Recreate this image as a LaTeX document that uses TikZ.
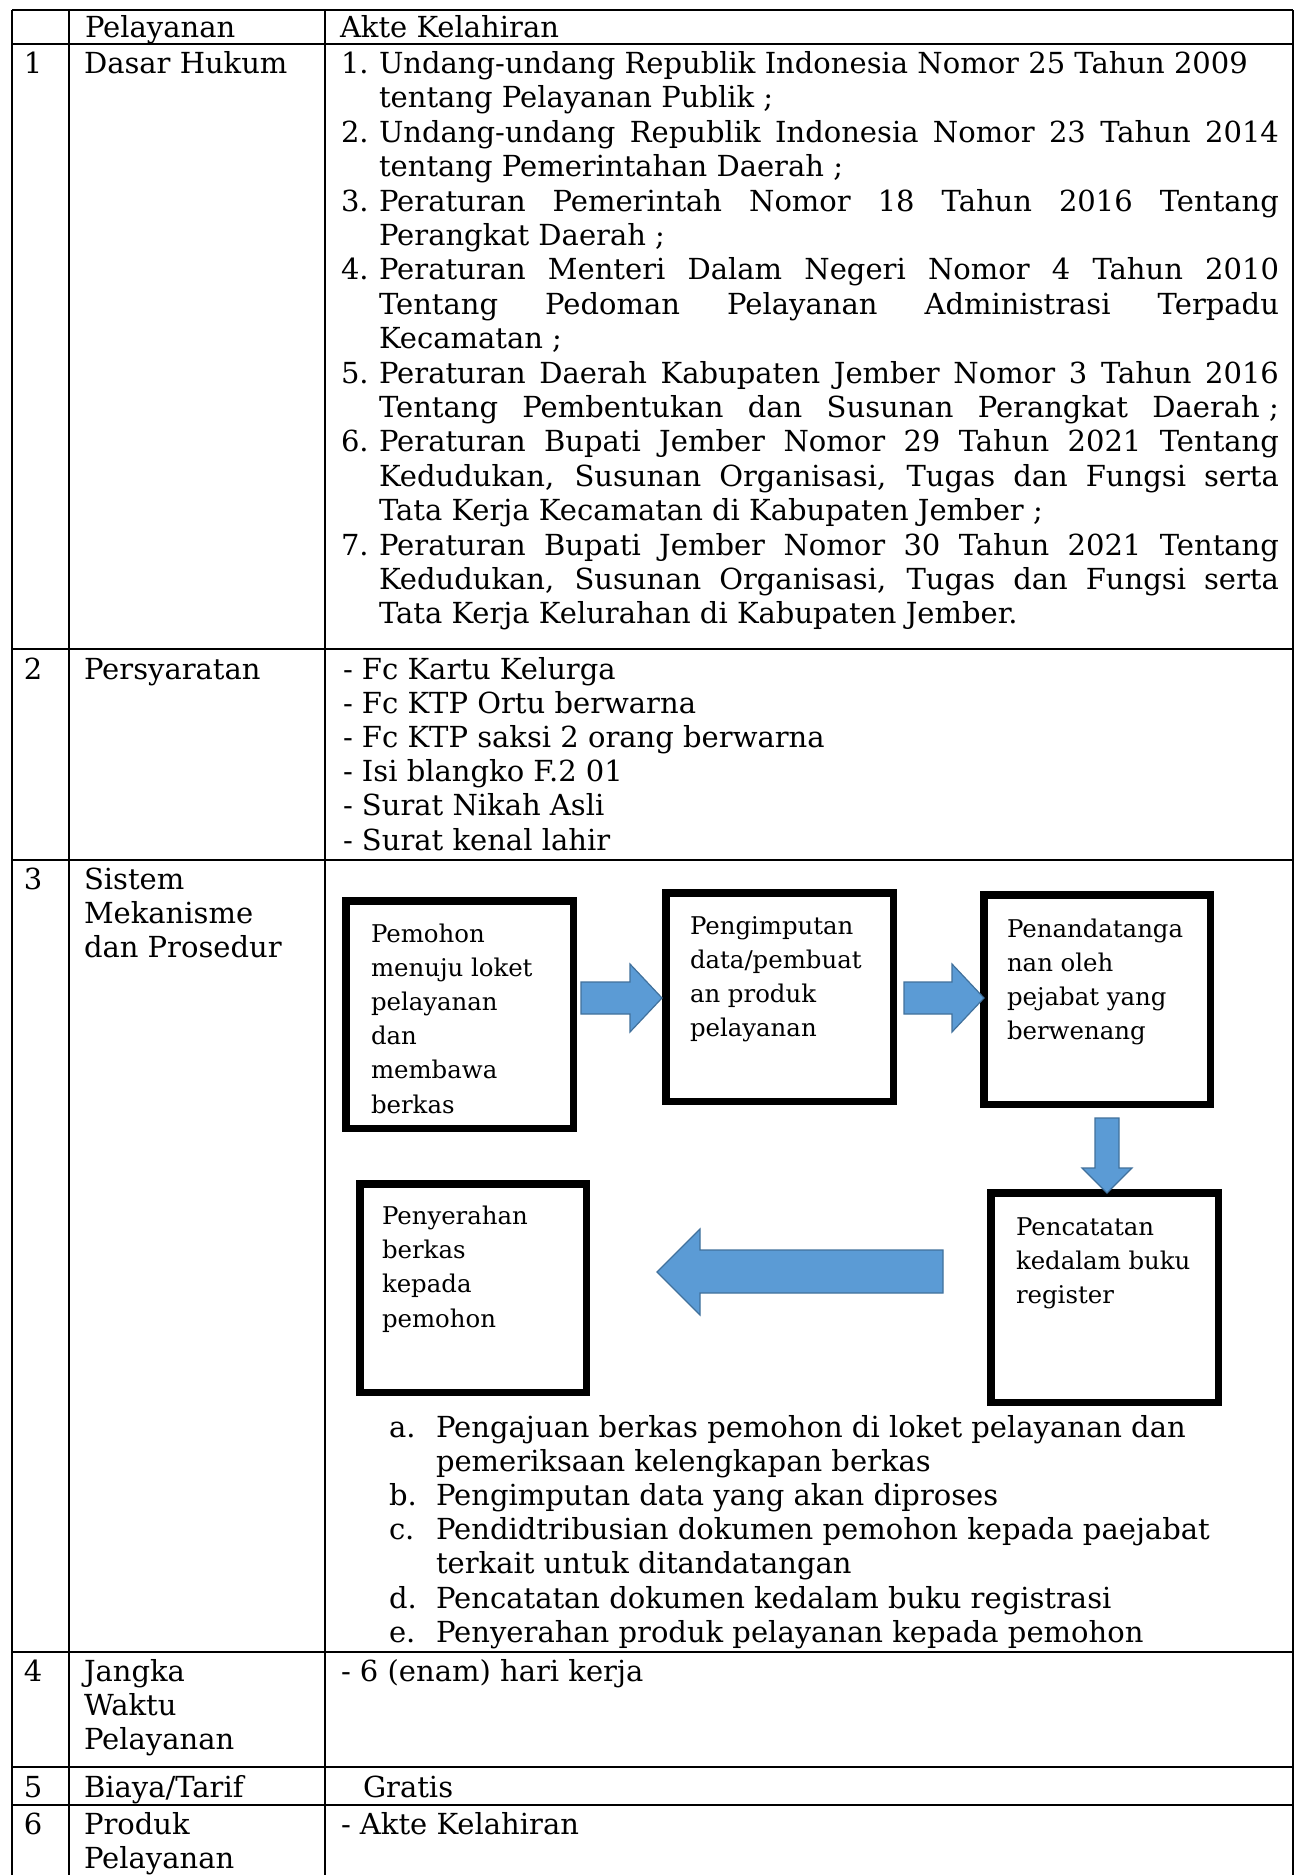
\documentclass[tikz,border=0pt]{standalone}
\usepackage{fontspec}
\setmainfont{DejaVu Serif}
\definecolor{arrowfill}{HTML}{5B9BD5}
\definecolor{arrowline}{HTML}{41719C}
\newcommand{\jline}[1]{\makebox[450pt][s]{#1}}
\begin{document}
\begin{tikzpicture}[x=0.5pt,y=-0.5pt,
 tx/.style={anchor=base west, inner sep=0pt, outer sep=0pt, font=\fontsize{14.5}{17}\selectfont},
 bt/.style={anchor=base west, inner sep=0pt, outer sep=0pt, font=\fontsize{12.2}{16}\selectfont},
 hrule/.style={line width=1.15pt},
 vrule/.style={line width=0.85pt},
 flowbox/.style={draw, line width=3.75pt, inner sep=0pt, fill=white},
 blockarrow/.style={fill=arrowfill, draw=arrowline, line width=0.6pt, line join=miter}]
\useasboundingbox (0,0) rectangle (1295,1875);
\fill[white] (0,0) rectangle (1295,1875);

% ---------- table grid ----------
\foreach \xx in {12,69,325,1293} {\draw[vrule] (\xx,10) -- (\xx,1875);}
\foreach \yy in {10,44,649,860,1652,1767,1805} {\draw[hrule] (12,\yy) -- (1293,\yy);}

% ---------- header ----------
\node[tx] (h1) at (85,37) {Pelayanan};
\node[tx] (h2) at (340,37) {Akte Kelahiran};

% ---------- row 1 ----------
\node[tx] (n1) at (24,73.5) {1};
\node[tx] (l1) at (84,73.5) {Dasar Hukum};
\node[tx] (r1a) at (341,73.5) {1.};
\node[tx] (r1b) at (379,73.5) {Undang-undang Republik Indonesia Nomor 25 Tahun 2009};
\node[tx] (r1c) at (379,107.9) {tentang Pelayanan Publik ;};
\node[tx] (r2a) at (341,142.3) {2.};
\node[tx] (r2b) at (379,142.3) {\jline{Undang-undang Republik Indonesia Nomor 23 Tahun 2014}};
\node[tx] (r2c) at (379,176.7) {tentang Pemerintahan Daerah ;};
\node[tx] (r3a) at (341,211.1) {3.};
\node[tx] (r3b) at (379,211.1) {\jline{Peraturan Pemerintah Nomor 18 Tahun 2016 Tentang}};
\node[tx] (r3c) at (379,245.5) {Perangkat Daerah ;};
\node[tx] (r4a) at (341,279.9) {4.};
\node[tx] (r4b) at (379,279.9) {\jline{Peraturan Menteri Dalam Negeri Nomor 4 Tahun 2010}};
\node[tx] (r4c) at (379,314.3) {\jline{Tentang Pedoman Pelayanan Administrasi Terpadu}};
\node[tx] (r4d) at (379,348.7) {Kecamatan ;};
\node[tx] (r5a) at (341,383.1) {5.};
\node[tx] (r5b) at (379,383.1) {\jline{Peraturan Daerah Kabupaten Jember Nomor 3 Tahun 2016}};
\node[tx] (r5c) at (379,417.5) {\jline{Tentang Pembentukan dan Susunan Perangkat Daerah\hspace{0.32em};}};
\node[tx] (r6a) at (341,451.9) {6.};
\node[tx] (r6b) at (379,451.9) {\jline{Peraturan Bupati Jember Nomor 29 Tahun 2021 Tentang}};
\node[tx] (r6c) at (379,486.3) {\jline{Kedudukan, Susunan Organisasi, Tugas dan Fungsi serta}};
\node[tx] (r6d) at (379,520.7) {Tata Kerja Kecamatan di Kabupaten Jember ;};
\node[tx] (r7a) at (341,555.1) {7.};
\node[tx] (r7b) at (379,555.1) {\jline{Peraturan Bupati Jember Nomor 30 Tahun 2021 Tentang}};
\node[tx] (r7c) at (379,589.5) {\jline{Kedudukan, Susunan Organisasi, Tugas dan Fungsi serta}};
\node[tx] (r7d) at (379,623.9) {Tata Kerja Kelurahan di Kabupaten Jember.};

% ---------- row 2 ----------
\node[tx] (n2) at (24,679) {2};
\node[tx] (l2) at (84,679) {Persyaratan};
\node[tx] (p1) at (343,679) {- Fc Kartu Kelurga};
\node[tx] (p2) at (343,713.2) {- Fc KTP Ortu berwarna};
\node[tx] (p3) at (343,747.4) {- Fc KTP saksi 2 orang berwarna};
\node[tx] (p4) at (343,781.6) {- Isi blangko F.2 01};
\node[tx] (p5) at (343,815.8) {- Surat Nikah Asli};
\node[tx] (p6) at (343,850) {- Surat kenal lahir};

% ---------- row 3 ----------
\node[tx] (n3) at (24,889) {3};
\node[tx] (l3a) at (84,889) {Sistem};
\node[tx] (l3b) at (84,923.4) {Mekanisme};
\node[tx] (l3c) at (84,957.8) {dan Prosedur};

% flow boxes
\node[flowbox, minimum width=113.75pt, minimum height=113.75pt] (b1) at (459.5,1014.5) {};
\node[flowbox, minimum width=113.75pt, minimum height=104.25pt] (b2) at (779.5,997) {};
\node[flowbox, minimum width=113.25pt, minimum height=104.75pt] (b3) at (1097,999.5) {};
\node[flowbox, minimum width=113.75pt, minimum height=104.75pt] (b4) at (1104.5,1297.5) {};
\node[flowbox, minimum width=113.25pt, minimum height=104.25pt] (b5) at (473,1288) {};

% box texts
\node[bt] (t1a) at (371,942) {Pemohon};
\node[bt] (t1b) at (371,976.2) {menuju loket};
\node[bt] (t1c) at (371,1010.4) {pelayanan};
\node[bt] (t1d) at (371,1044.6) {dan};
\node[bt] (t1e) at (371,1078.8) {membawa};
\node[bt] (t1f) at (371,1113) {berkas};

\node[bt] (t2a) at (690,934) {Pengimputan};
\node[bt] (t2b) at (690,968) {data/pembuat};
\node[bt] (t2c) at (690,1002) {an produk};
\node[bt] (t2d) at (690,1036) {pelayanan};

\node[bt] (t3a) at (1007,937) {Penandatanga};
\node[bt] (t3b) at (1007,971) {nan oleh};
\node[bt] (t3c) at (1007,1005) {pejabat yang};
\node[bt] (t3d) at (1007,1039) {berwenang};

\node[bt] (t4a) at (1016,1235) {Pencatatan};
\node[bt] (t4b) at (1016,1269) {kedalam buku};
\node[bt] (t4c) at (1016,1303) {register};

\node[bt] (t5a) at (382,1224) {Penyerahan};
\node[bt] (t5b) at (382,1258) {berkas};
\node[bt] (t5c) at (382,1292.5) {kepada};
\node[bt] (t5d) at (382,1327) {pemohon};

% block arrows
\draw[blockarrow] (581,982) -- (630,982) -- (630,964) -- (662,998) -- (630,1032) -- (630,1014) -- (581,1014) -- cycle;
\draw[blockarrow] (904,982) -- (952,982) -- (952,964) -- (984,998) -- (952,1032) -- (952,1014) -- (904,1014) -- cycle;
\draw[blockarrow] (1095,1118) -- (1119,1118) -- (1119,1168) -- (1132,1168) -- (1107,1193) -- (1082,1168) -- (1095,1168) -- cycle;
\draw[blockarrow] (943,1250) -- (700,1250) -- (700,1229) -- (657,1272) -- (700,1315) -- (700,1293) -- (943,1293) -- cycle;

% procedure list
\node[tx] (la) at (389,1437) {a.};
\node[tx] (ta1) at (436,1437) {Pengajuan berkas pemohon di loket pelayanan dan};
\node[tx] (ta2) at (436,1471.2) {pemeriksaan kelengkapan berkas};
\node[tx] (lb) at (389,1505.4) {b.};
\node[tx] (tb1) at (436,1505.4) {Pengimputan data yang akan diproses};
\node[tx] (lc) at (389,1539.6) {c.};
\node[tx] (tc1) at (436,1539.6) {Pendidtribusian dokumen pemohon kepada paejabat};
\node[tx] (tc2) at (436,1573.8) {terkait untuk ditandatangan};
\node[tx] (ld) at (389,1608) {d.};
\node[tx] (td1) at (436,1608) {Pencatatan dokumen kedalam buku registrasi};
\node[tx] (le) at (389,1642.2) {e.};
\node[tx] (te1) at (436,1642.2) {Penyerahan produk pelayanan kepada pemohon};

% ---------- row 4 ----------
\node[tx] (n4) at (24,1681) {4};
\node[tx] (l4a) at (84,1681) {Jangka};
\node[tx] (l4b) at (84,1715.4) {Waktu};
\node[tx] (l4c) at (84,1749.8) {Pelayanan};
\node[tx] (v4) at (341,1681) {- 6 (enam) hari kerja};

% ---------- row 5 ----------
\node[tx] (n5) at (24,1797) {5};
\node[tx] (l5) at (84,1797) {Biaya/Tarif};
\node[tx] (v5) at (363,1797) {Gratis};

% ---------- row 6 ----------
\node[tx] (n6) at (24,1834) {6};
\node[tx] (l6a) at (84,1834) {Produk};
\node[tx] (l6b) at (84,1868.4) {Pelayanan};
\node[tx] (v6) at (341,1834) {- Akte Kelahiran};
\end{tikzpicture}
\end{document}
